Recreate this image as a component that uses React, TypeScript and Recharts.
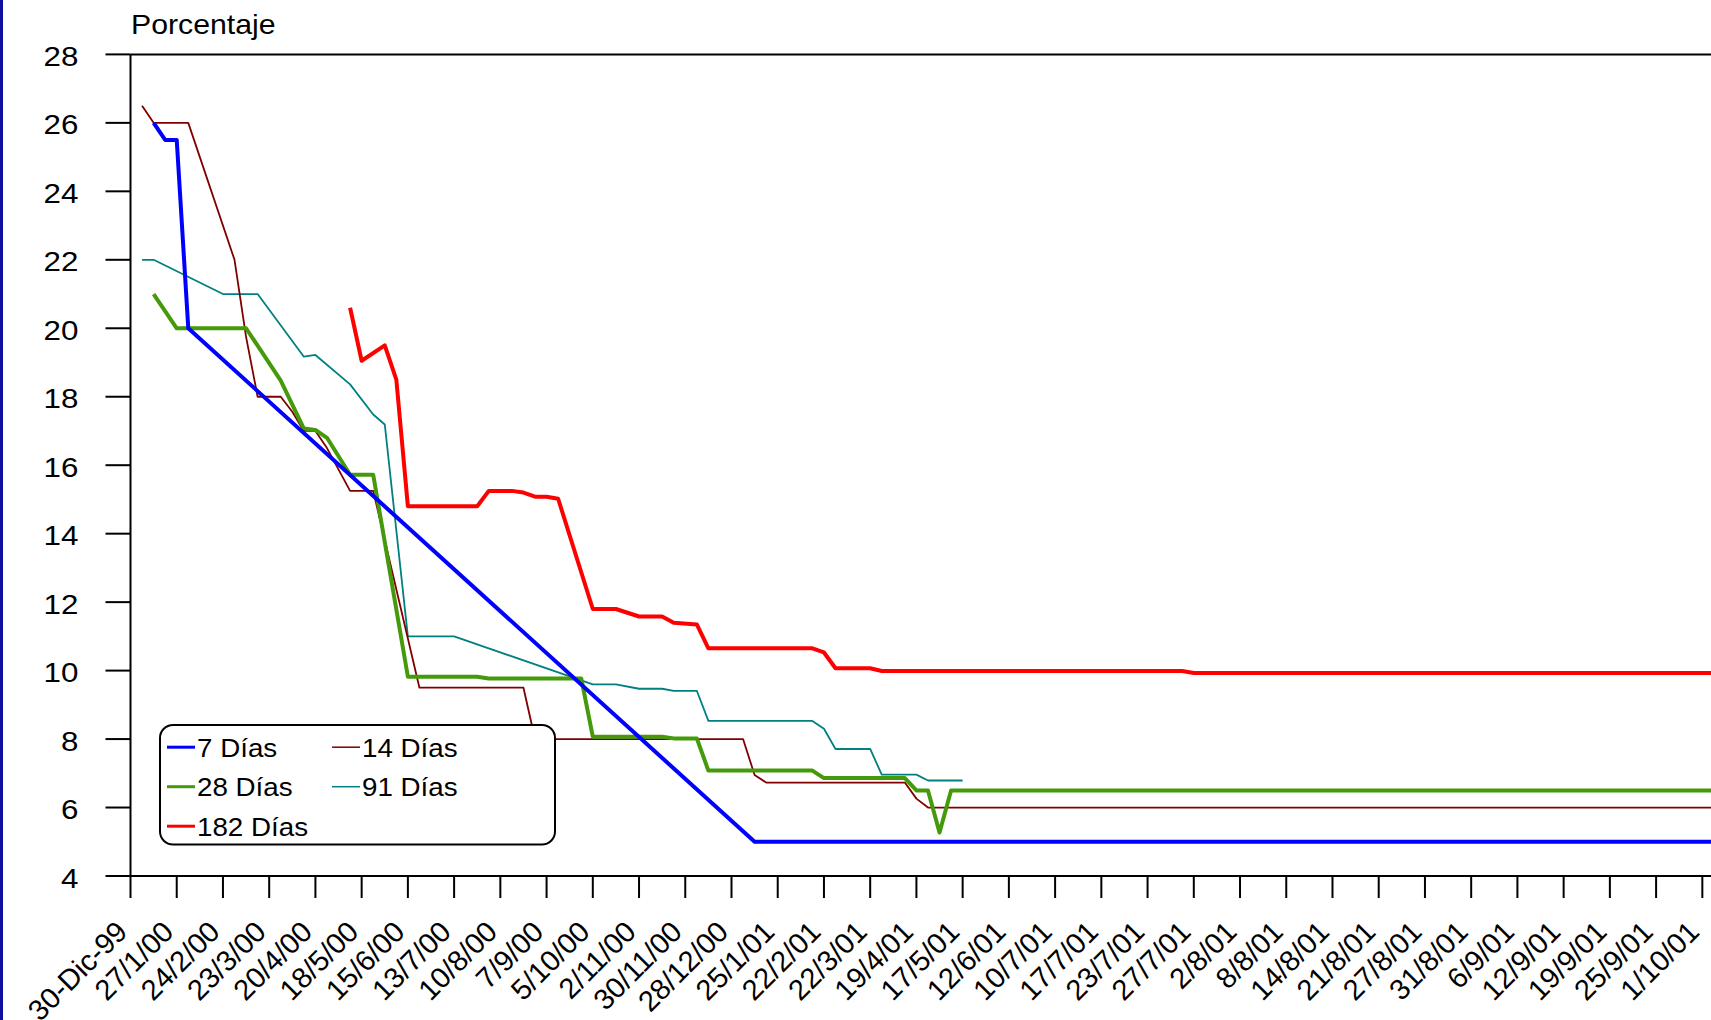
import React from 'react';
import { LineChart, Line, XAxis, YAxis, ReferenceLine } from 'recharts';

// Category labels shown under every 4th observation
const tickLabels = [
  '30-Dic-99', '27/1/00', '24/2/00', '23/3/00', '20/4/00', '18/5/00', '15/6/00',
  '13/7/00', '10/8/00', '7/9/00', '5/10/00', '2/11/00', '30/11/00', '28/12/00',
  '25/1/01', '22/2/01', '22/3/01', '19/4/01', '17/5/01', '12/6/01', '10/7/01',
  '17/7/01', '23/7/01', '27/7/01', '2/8/01', '8/8/01', '14/8/01', '21/8/01',
  '27/8/01', '31/8/01', '6/9/01', '12/9/01', '19/9/01', '25/9/01', '1/10/01',
];
const OBS_PER_TICK = 4;
const tickPositions = tickLabels.map((_, i) => i * OBS_PER_TICK);
const yTicks = [4, 6, 8, 10, 12, 14, 16, 18, 20, 22, 24, 26, 28];

// [observation index, rate %]
const dias7: [number, number][] = [
  [2, 26], [3, 25.5], [4, 25.5], [5, 20], [54, 5], [137, 5],
];
const dias14: [number, number][] = [
  [1, 26.5], [2, 26], [5, 26], [6, 25], [9, 22], [10, 19.75], [11, 18], [13, 18],
  [14, 17.56], [15, 17], [16, 17], [17, 16.5], [19, 15.25], [21, 15.25], [25, 9.5],
  [34, 9.5], [35, 8], [53, 8], [54, 6.95], [55, 6.73], [67, 6.73], [68, 6.26],
  [69, 6], [137, 6],
];
const dias28: [number, number][] = [
  [2, 21], [4, 20], [10, 20], [13, 18.47], [15, 17.07], [16, 17.03], [17, 16.8],
  [19, 15.72], [21, 15.72], [24, 9.82], [30, 9.82], [31, 9.77], [39, 9.77], [40, 8.07],
  [46, 8.07], [47, 8.02], [49, 8.02], [50, 7.08], [59, 7.08], [60, 6.86], [67, 6.86],
  [68, 6.5], [69, 6.5], [70, 5.27], [71, 6.5], [137, 6.5],
];
const dias91: [number, number][] = [
  [1, 22], [2, 22], [8, 21], [11, 21], [15, 19.17], [16, 19.22], [19, 18.36],
  [21, 17.48], [22, 17.19], [24, 11], [28, 11], [40, 9.6], [42, 9.6], [44, 9.47],
  [46, 9.47], [47, 9.41], [49, 9.41], [50, 8.53], [59, 8.53], [60, 8.3], [61, 7.71],
  [64, 7.71], [65, 6.96], [68, 6.96], [69, 6.79], [72, 6.79],
];
const dias182: [number, number][] = [
  [19, 20.6], [20, 19.05], [22, 19.5], [23, 18.5], [24, 14.8], [30, 14.8], [31, 15.25],
  [33, 15.25], [34, 15.2], [35, 15.08], [36, 15.08], [37, 15.02], [40, 11.8], [42, 11.8],
  [44, 11.58], [46, 11.58], [47, 11.4], [49, 11.35], [50, 10.65], [59, 10.65],
  [60, 10.53], [61, 10.07], [64, 10.07], [65, 9.99], [91, 9.99], [92, 9.93], [137, 9.93],
];

const series = [
  { name: '7 Días', data: dias7, color: '#0000FF', width: 4, legendWidth: 3 },
  { name: '14 Días', data: dias14, color: '#800000', width: 1.8, legendWidth: 1.5 },
  { name: '28 Días', data: dias28, color: '#449A0A', width: 4, legendWidth: 3 },
  { name: '91 Días', data: dias91, color: '#008080', width: 1.8, legendWidth: 1.5 },
  { name: '182 Días', data: dias182, color: '#FF0000', width: 4, legendWidth: 3 },
];
const drawOrder = ['182 Días', '91 Días', '14 Días', '28 Días', '7 Días'];

const FONT = '"Liberation Sans", Arial, sans-serif';
const W = 1711;
const H = 1020;

const toPoints = (arr: [number, number][]) => arr.map(([x, y]) => ({ x, y }));

const XTick = (props: any) => {
  const { x, y, payload } = props;
  const label = tickLabels[Math.round(payload.value / OBS_PER_TICK)];
  return (
    <text
      transform={`translate(${x - 1.5},${y + 33.5}) rotate(-45)`}
      textAnchor="end"
      fontSize={29}
      fontFamily={FONT}
      fill="#000"
    >
      {label}
    </text>
  );
};

const YTick = (props: any) => {
  const { x, y, payload } = props;
  return (
    <text
      transform={`translate(${x},${y}) scale(1.12,1)`}
      textAnchor="end"
      dy={11.5}
      fontSize={28}
      fontFamily={FONT}
      fill="#000"
    >
      {payload.value}
    </text>
  );
};

const Overlay = () => {
  const colX = [167, 332];
  const rowY = [756.7, 796.2, 835.7];
  return (
    <svg
      width={W}
      height={H}
      style={{ position: 'absolute', left: 0, top: 0, pointerEvents: 'none' }}
    >
      <rect x={0} y={0} width={3} height={H} fill="#1010A0" />
      <text
        transform="translate(131,33.8) scale(1.08,1)"
        fontSize={28}
        fontFamily={FONT}
        fill="#000"
      >
        Porcentaje
      </text>
      <rect x={160} y={725} width={395} height={119.5} rx={13} ry={13} fill="#fff" stroke="#000" strokeWidth={2} />
      {series.map((s, i) => {
        const cx = colX[i % 2];
        const by = rowY[Math.floor(i / 2)];
        return (
          <g key={s.name}>
            <line x1={cx} x2={cx + 28} y1={by - 9.5} y2={by - 9.5} stroke={s.color} strokeWidth={s.legendWidth} />
            <text
              transform={`translate(${cx + 30},${by}) scale(1.11,1)`}
              fontSize={25}
              fontFamily={FONT}
              fill="#000"
            >
              {s.name}
            </text>
          </g>
        );
      })}
    </svg>
  );
};

export default function App() {
  const ordered = drawOrder.map((n) => series.find((s) => s.name === n)!);
  return (
    <div
      style={{
        position: 'fixed', left: 0, top: 0, width: W, height: H,
        overflow: 'hidden', background: '#fff',
      }}
    >
      <LineChart width={W} height={H} margin={{ top: 54.4, right: 0, bottom: 0, left: 0 }}>
        <XAxis
          type="number"
          dataKey="x"
          domain={[0, 136.75]}
          allowDataOverflow
          ticks={tickPositions}
          interval={0}
          height={144}
          tickSize={22}
          tickMargin={2}
          axisLine={{ stroke: '#000', strokeWidth: 2 }}
          tickLine={{ stroke: '#000', strokeWidth: 2 }}
          tick={(p: any) => <XTick {...p} />}
        />
        <YAxis
          type="number"
          domain={[4, 28]}
          ticks={yTicks}
          interval={0}
          width={130.5}
          tickSize={25}
          tickMargin={27}
          axisLine={{ stroke: '#000', strokeWidth: 2 }}
          tickLine={{ stroke: '#000', strokeWidth: 2 }}
          tick={(p: any) => <YTick {...p} />}
        />
        <ReferenceLine y={28} stroke="#000" strokeWidth={2} />
        {ordered.map((s) => (
          <Line
            key={s.name}
            data={toPoints(s.data)}
            dataKey="y"
            name={s.name}
            type="linear"
            stroke={s.color}
            strokeWidth={s.width}
            strokeLinejoin="round"
            dot={false}
            activeDot={false}
            isAnimationActive={false}
          />
        ))}
      </LineChart>
      <Overlay />
    </div>
  );
}
